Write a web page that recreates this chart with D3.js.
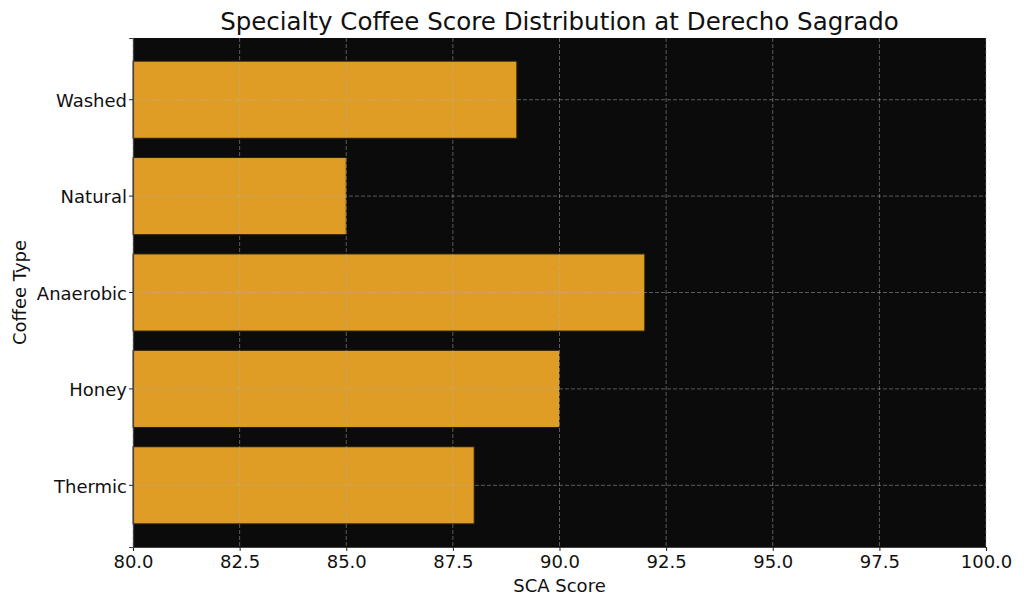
<!DOCTYPE html>
<html><head><meta charset="utf-8">
<script src="https://cdn.jsdelivr.net/npm/d3@7"></script>
<style>body{margin:0;background:#fff;} text{font-family:"DejaVu Sans",sans-serif;}</style>
</head><body>
<svg id="c" width="1024" height="607"></svg>
<script>
const categories = ["Washed","Natural","Anaerobic","Honey","Thermic"];
const scores = [89, 85, 92, 90, 88];
const xTicks = [80.0, 82.5, 85.0, 87.5, 90.0, 92.5, 95.0, 97.5, 100.0];

const svg = d3.select("#c");
const L=133, R=986, T=38, B=547;
const x = d3.scaleLinear().domain([80,100]).range([L,R]);
const y = d3.scaleBand().domain(categories).range([T,B]).paddingInner(0.2).paddingOuter(0.24);

svg.append("rect").attr("x",L).attr("y",T).attr("width",R-L).attr("height",B-T).attr("fill","#0b0b0b");

svg.append("g").selectAll("rect").data(categories).join("rect")
  .attr("x", x(80)).attr("y", d=>y(d))
  .attr("width", (d,i)=>x(scores[i])-x(80)).attr("height", y.bandwidth())
  .attr("fill","#df9d26").attr("stroke","#2a2008").attr("stroke-width",1);

// grid
const g = svg.append("g").attr("stroke","#b0b0b0").attr("stroke-opacity",0.55).attr("stroke-dasharray","4,2").attr("stroke-width",0.9);
g.selectAll("line.v").data(xTicks).join("line").attr("class","v")
  .attr("x1",d=>x(d)).attr("x2",d=>x(d)).attr("y1",T).attr("y2",B);
g.selectAll("line.h").data(categories).join("line").attr("class","h")
  .attr("x1",L).attr("x2",R).attr("y1",d=>y(d)+y.bandwidth()/2).attr("y2",d=>y(d)+y.bandwidth()/2);

// axes
const xAxis = d3.axisBottom(x).tickValues(xTicks).tickFormat(d3.format(".1f")).tickSizeOuter(0).tickSize(4).tickPadding(4);
const xg = svg.append("g").attr("transform",`translate(0,${B})`).call(xAxis);
xg.select(".domain").attr("stroke","#444").attr("stroke-width",1.2);
xg.selectAll(".tick line").attr("stroke","#222");
xg.selectAll("text").attr("font-size",18).attr("fill","#111").attr("font-family","DejaVu Sans");

const yAxis = d3.axisLeft(y).tickSizeOuter(0).tickSize(4).tickPadding(2);
const yg = svg.append("g").attr("transform",`translate(${L},0)`).call(yAxis);
yg.select(".domain").attr("stroke","#444").attr("stroke-width",1.2);
yg.selectAll(".tick line").attr("stroke","#222");
yg.selectAll("text").attr("font-size",18).attr("fill","#111").attr("font-family","DejaVu Sans").attr("dy","0.4em");

svg.append("text").attr("x",(L+R)/2).attr("y",30).attr("text-anchor","middle")
  .attr("font-size",24.5).attr("fill","#111").text("Specialty Coffee Score Distribution at Derecho Sagrado");
svg.append("text").attr("x",(L+R)/2).attr("y",592).attr("text-anchor","middle")
  .attr("font-size",18).attr("fill","#111").text("SCA Score");
svg.append("text").attr("transform",`translate(26,${(T+B)/2}) rotate(-90)`).attr("text-anchor","middle")
  .attr("font-size",18).attr("fill","#111").text("Coffee Type");
</script>
</body></html>
